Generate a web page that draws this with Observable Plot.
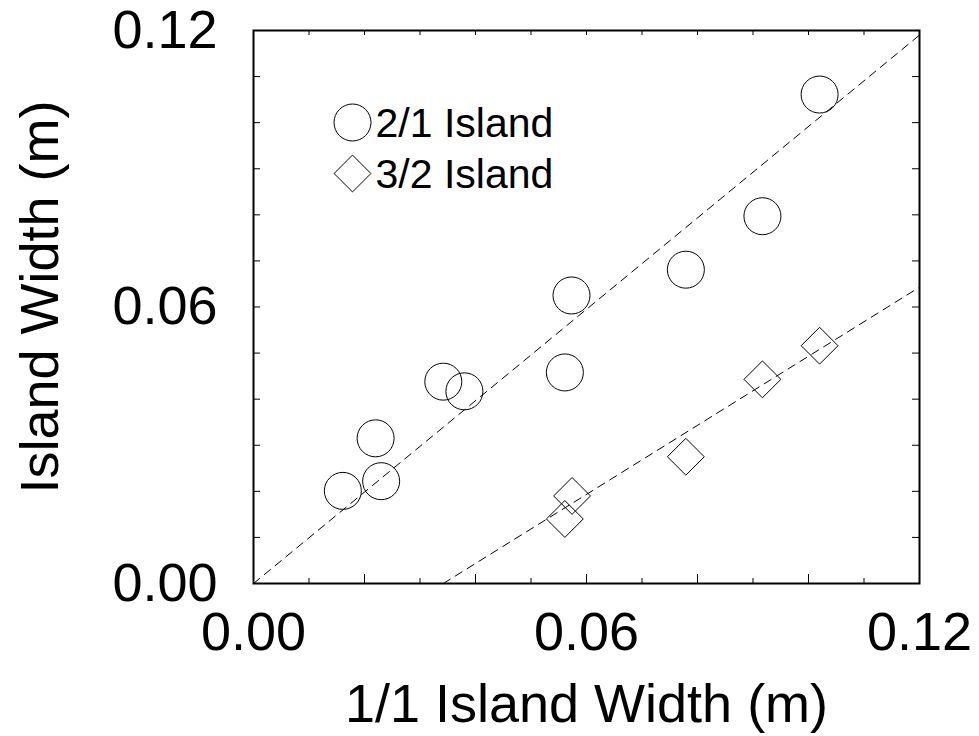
<!DOCTYPE html>
<html><head><meta charset="utf-8">
<script src="https://cdn.jsdelivr.net/npm/d3@7"></script>
<script src="https://cdn.jsdelivr.net/npm/@observablehq/plot@0.6"></script>
<style>body{margin:0;background:#fff}</style>
</head><body><div id="chart"></div>
<script>
// 2/1 island widths vs 1/1 island width (circles)
const circleX = [0.0161, 0.0220, 0.0230, 0.0342, 0.0380, 0.0561, 0.0573, 0.0779, 0.0917, 0.1020];
const circleY = [0.0201, 0.0315, 0.0222, 0.0438, 0.0417, 0.0458, 0.0625, 0.0681, 0.0797, 0.1061];
// 3/2 island widths vs 1/1 island width (diamonds)
const diamondX = [0.0561, 0.0574, 0.0779, 0.0917, 0.1020];
const diamondY = [0.0140, 0.0190, 0.0275, 0.0443, 0.0516];
// dashed fit lines
const fit21X = [0, 0.12];
const fit21Y = [0, 0.119];
const fit32X = [0.0342, 0.12];
const fit32Y = [0, 0.0643];
// ticks
const tickLabels = [0, 0.06, 0.12];
const majorTicks = [0.02, 0.04, 0.06, 0.08, 0.10];
const minorTicks = [0.01, 0.03, 0.05, 0.07, 0.09, 0.11];
const allTicks = [0.01, 0.02, 0.03, 0.04, 0.05, 0.06, 0.07, 0.08, 0.09, 0.10, 0.11];
const legendLabels = ["2/1 Island", "3/2 Island"];
const xTitle = "1/1 Island Width (m)";
const yTitle = "Island Width (m)";

const W = 979, H = 736;
const mL = 253, mR = 60, mT = 30, mB = 153;
const pW = W - mL - mR, pH = H - mT - mB;

const circles = circleX.map((x, i) => ({x, y: circleY[i]}));
const diamonds = diamondX.map((x, i) => ({x, y: diamondY[i]}));
const line21 = fit21X.map((x, i) => ({x, y: fit21Y[i]}));
const line32 = fit32X.map((x, i) => ({x, y: fit32Y[i]}));
const fmt = d3.format(".2f");

const chart = Plot.plot({
  width: W, height: H,
  marginLeft: mL, marginRight: mR, marginTop: mT, marginBottom: mB,
  style: {fontFamily: "'Liberation Sans', Arial, sans-serif", background: "white", color: "black"},
  x: {domain: [0, 0.12]},
  y: {domain: [0, 0.12]},
  marks: [
    Plot.line(line21, {x: "x", y: "y", stroke: "black", strokeWidth: 1, strokeDasharray: "8,6"}),
    Plot.line(line32, {x: "x", y: "y", stroke: "black", strokeWidth: 1, strokeDasharray: "8,6"}),
    Plot.dot(circles, {x: "x", y: "y", symbol: "circle", r: 18.5, stroke: "black", strokeWidth: 1, fill: "none"}),
    Plot.dot(diamonds, {x: "x", y: "y", symbol: "diamond2", r: 16.6, stroke: "black", strokeWidth: 1, fill: "none"}),
    // inward tick marks
    Plot.tickX(majorTicks, {x: d => d, insetTop: pH - 9, stroke: "black", strokeWidth: 1}),
    Plot.tickX(minorTicks, {x: d => d, insetTop: pH - 5, stroke: "black", strokeWidth: 1}),
    Plot.tickX(allTicks, {x: d => d, insetBottom: pH - 5, stroke: "black", strokeWidth: 1}),
    Plot.tickY(allTicks, {y: d => d, insetRight: pW - 7, stroke: "black", strokeWidth: 1}),
    Plot.tickY(allTicks, {y: d => d, insetLeft: pW - 7, stroke: "black", strokeWidth: 1}),
    Plot.frame({stroke: "black", strokeWidth: 2}),
    Plot.axisX({ticks: tickLabels, tickFormat: fmt, tickSize: 0, tickPadding: 28, fontSize: 54, label: null}),
    Plot.axisY({ticks: tickLabels, tickFormat: fmt, tickSize: 0, tickPadding: 36, fontSize: 54, label: null}),
    Plot.text([xTitle], {text: d => d, frameAnchor: "bottom", dy: 138, lineAnchor: "bottom", textAnchor: "middle", fontSize: 54, fill: "black"}),
    Plot.text([yTitle], {text: d => d, frameAnchor: "left", rotate: -90, dx: -196, dy: -10, lineAnchor: "bottom", textAnchor: "middle", fontSize: 54, fill: "black"}),
    // legend
    Plot.dot([0], {frameAnchor: "top-left", dx: 99, dy: 92, symbol: "circle", r: 18.5, stroke: "black", strokeWidth: 1, fill: "none"}),
    Plot.dot([0], {frameAnchor: "top-left", dx: 99, dy: 143, symbol: "diamond2", r: 16.6, stroke: "black", strokeWidth: 1, fill: "none"}),
    Plot.text([legendLabels[0]], {text: d => d, frameAnchor: "top-left", dx: 122, dy: 106, textAnchor: "start", lineAnchor: "bottom", fontSize: 41, fill: "black"}),
    Plot.text([legendLabels[1]], {text: d => d, frameAnchor: "top-left", dx: 122, dy: 157, textAnchor: "start", lineAnchor: "bottom", fontSize: 41, fill: "black"})
  ]
});
document.getElementById("chart").appendChild(chart);
</script>
</body></html>
